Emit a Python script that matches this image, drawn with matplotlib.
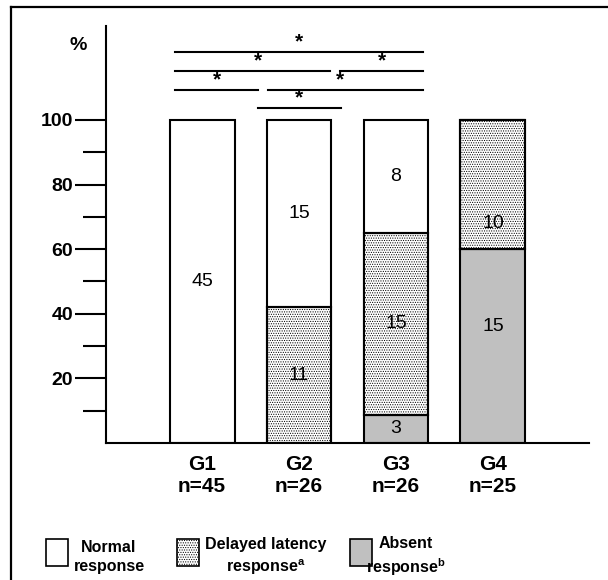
import numpy as np
import matplotlib.pyplot as plt
from matplotlib.patches import Rectangle
from matplotlib.lines import Line2D

plt.rcParams['font.family'] = ['Liberation Sans', 'DejaVu Sans']
plt.rcParams['mathtext.fontset'] = 'custom'
plt.rcParams['mathtext.rm'] = 'Liberation Sans'
plt.rcParams['mathtext.bf'] = 'Liberation Sans:bold'
plt.rcParams['hatch.color'] = '#c4c4c4'
plt.rcParams['hatch.linewidth'] = 0.5

groups = ['G1', 'G2', 'G3', 'G4']
n_sizes = [45, 26, 26, 25]
# percentages (bottom to top: absent, delayed, normal)
absent_pct = [0, 0, 8.7, 60]
delayed_pct = [0, 42, 56.3, 40]
normal_pct = [100, 58, 35, 0]
# counts written inside the segments
absent_n = [0, 0, 3, 15]
delayed_n = [0, 11, 15, 10]
normal_n = [45, 15, 8, 0]

# significance brackets: (x start, x end, y, star x)
sig_lines = [(-0.28, 2.28, 121.0, 1.0),
             (-0.28, 1.32, 115.2, 0.58),
             (1.42, 2.28, 115.2, 1.86),
             (-0.28, 0.58, 109.3, 0.15),
             (0.68, 2.28, 109.3, 1.42),
             (0.58, 1.43, 103.7, 1.0)]

fig = plt.figure(figsize=(6.08, 5.8), dpi=100)
ax = fig.add_axes([106/608, 1-443/580, (589-106)/608, (443-26)/580])

x = np.arange(len(groups))
w = 0.67
ab = np.array(absent_pct)
de = np.array(delayed_pct)
no = np.array(normal_pct)

ax.bar(x, ab, w, color='#c0c0c0', edgecolor='black', linewidth=1.5)
ax.bar(x, de, w, bottom=ab, color='white', edgecolor='black', linewidth=1.5, hatch='.......')
ax.bar(x, no, w, bottom=ab+de, color='white', edgecolor='black', linewidth=1.5)

# redraw edges on hatched bars so edge stays black
for xi, b, h in zip(x, ab, de):
    if h > 0:
        ax.add_patch(Rectangle((xi-w/2, b), w, h, fill=False, edgecolor='black', linewidth=1.5))

label_shift = {(3, 'd'): -12, (3, 'a'): 6}
for i in range(len(groups)):
    segs = [('a', ab[i], absent_n[i], 0), ('d', de[i], delayed_n[i], ab[i]), ('n', no[i], normal_n[i], ab[i]+de[i])]
    for key, h, cnt, bot in segs:
        if cnt > 0:
            yy = bot + h/2 + label_shift.get((i, key), 0)
            ax.text(x[i], yy, str(cnt), ha='center', va='center', fontsize=14)

for x0, x1, yy, sx in sig_lines:
    ax.plot([x0, x1], [yy, yy], color='black', linewidth=1.5, clip_on=False)
    ax.text(sx, yy + 0.1, '*', ha='center', va='bottom', fontsize=15, fontweight='bold')

ax.set_xlim(-0.99, 3.99)
ax.set_ylim(0, 129.1)
ax.set_yticks([20, 40, 60, 80, 100])
ax.set_yticks([10, 30, 50, 70, 90], minor=True)
ax.set_yticklabels(['20', '40', '60', '80', '100'], fontsize=14, fontweight='bold')
ax.tick_params(axis='y', which='major', length=22.5, width=1.5, pad=1)
ax.tick_params(axis='y', which='minor', length=16.5, width=1.5)
ax.set_xticks(x)
ax.set_xticklabels([f'{g}\nn={n}' for g, n in zip(groups, n_sizes)], fontsize=15, fontweight='bold', linespacing=1.15)
ax.tick_params(axis='x', length=0, pad=9)
for s in ['top', 'right']:
    ax.spines[s].set_visible(False)
ax.spines['left'].set_linewidth(1.5)
ax.spines['bottom'].set_linewidth(1.5)

fig.text(78/608, 1-45/580, '%', ha='center', va='center', fontsize=14, fontweight='bold')

# legend drawn by hand
leg_boxes = [(46, 'white', None), (177, 'white', '.......'), (350, '#c0c0c0', None)]
for lx, fc, hatch in leg_boxes:
    fig.patches.append(Rectangle((lx/608, 1-566/580), 22/608, 27/580, transform=fig.transFigure,
                                 facecolor=fc, edgecolor='black', linewidth=1.2, hatch=hatch))
fig.text(109/608, 1-557/580, 'Normal\nresponse', ha='center', va='center', fontsize=11.5, fontweight='bold', linespacing=1.35)
fig.text(266/608, 1-557/580, 'Delayed latency\nresponse$^\\mathbf{a}$', ha='center', va='center', fontsize=11.5, fontweight='bold', linespacing=1.35)
fig.text(406/608, 1-557/580, 'Absent\nresponse$^\\mathbf{b}$', ha='center', va='center', fontsize=11.5, fontweight='bold', linespacing=1.35)

# outer frame
fig.add_artist(Line2D([11/608, 1], [1-7/580, 1-7/580], transform=fig.transFigure, color='black', linewidth=1.6))
fig.add_artist(Line2D([11/608, 11/608], [0, 1-7/580], transform=fig.transFigure, color='black', linewidth=1.6))

fig.savefig('out.png', dpi=100)
